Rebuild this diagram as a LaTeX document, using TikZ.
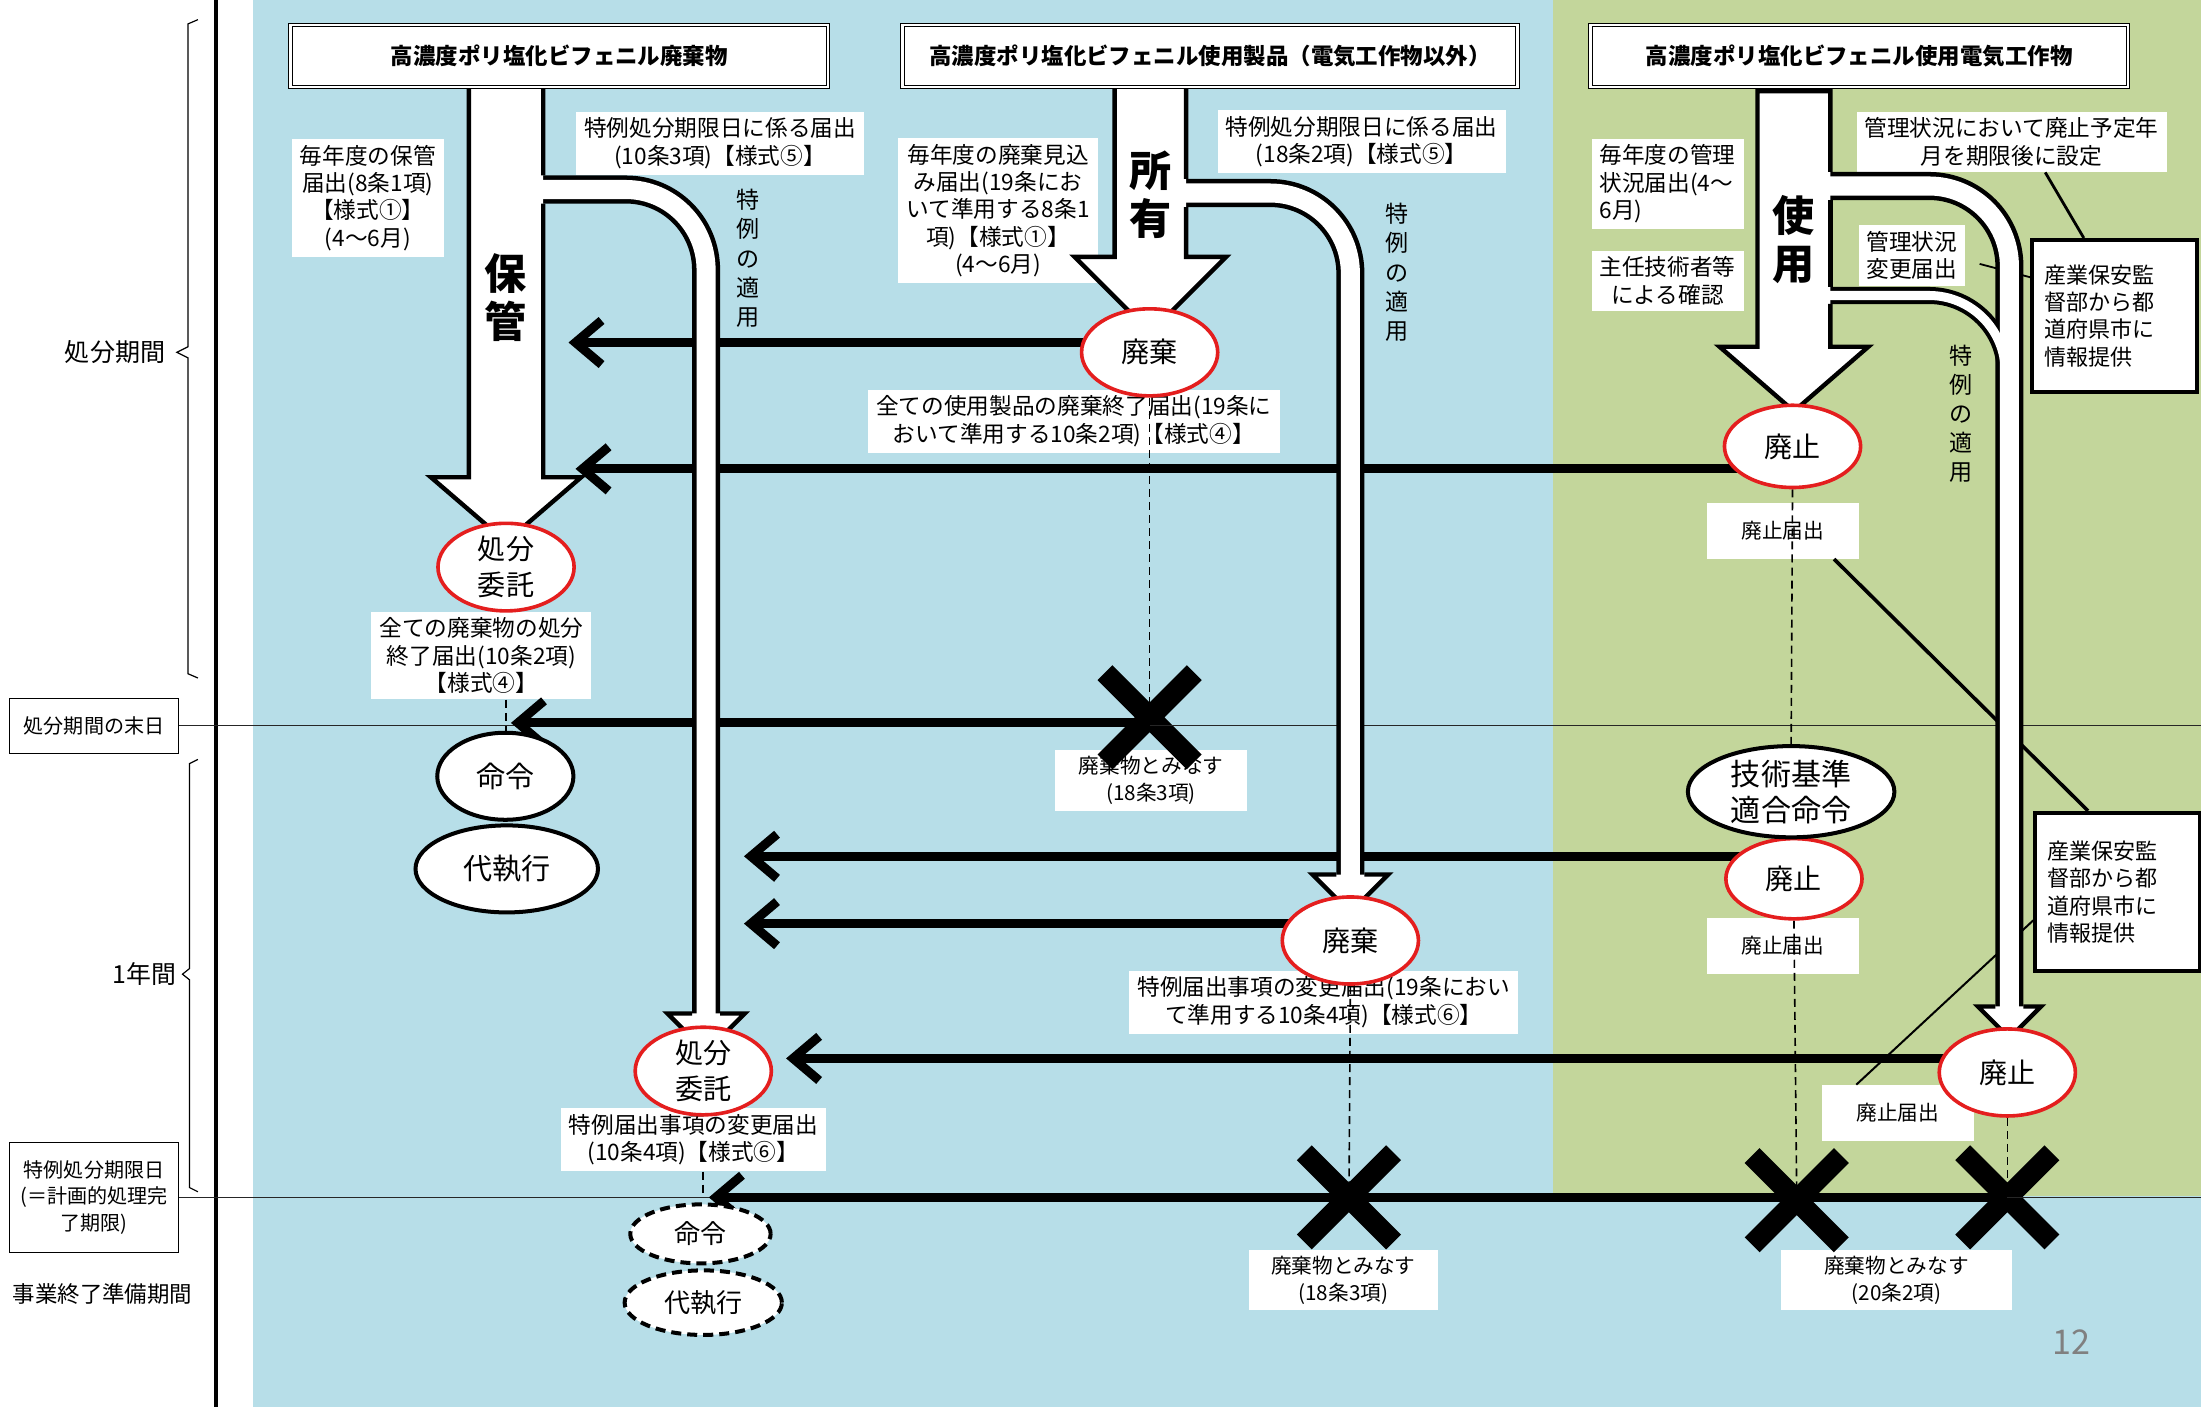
\documentclass[tikz,border=0pt]{standalone}
\usepackage{fontspec}
\setmainfont{Noto Sans CJK JP}
\usetikzlibrary{shapes.geometric,shapes.misc,arrows.meta,calc}

\pgfdeclarelayer{back}
\pgfdeclarelayer{pipes}
\pgfdeclarelayer{front}
\pgfsetlayers{back,main,pipes,front}

\definecolor{paleblue}{RGB}{183,222,232}
\definecolor{palegreen}{RGB}{195,214,155}
\definecolor{ovalred}{RGB}{228,30,30}

\tikzset{
  lbl/.style={fill=white,inner xsep=4pt,inner ysep=3pt,align=center,font=\fontsize{11.3}{13.6}\selectfont},
  smalllbl/.style={lbl,font=\fontsize{10.3}{13.3}\selectfont},
  hdr/.style={draw,double,double distance=1.2pt,line width=0.5pt,fill=white,minimum height=30.8pt,font=\bfseries\fontsize{11.2}{13}\selectfont},
  redoval/.style={ellipse,draw=ovalred,line width=1.8pt,fill=white,inner sep=0pt,minimum width=67.9pt,minimum height=43.4pt,align=center,font=\fontsize{14}{18}\selectfont},
  blkoval/.style={ellipse,draw,line width=2pt,fill=white,inner sep=0pt,minimum height=43.4pt,align=center,font=\fontsize{14.5}{18}\selectfont},
  dashoval/.style={ellipse,draw,line width=2pt,dash pattern=on 5pt off 3pt,fill=white,inner sep=0pt,minimum height=29.4pt,align=center,font=\fontsize{13}{16}\selectfont},
  xmark/.style={cross out,draw,line width=10.5pt,minimum size=34pt,inner sep=0pt},
  harrow/.style={line width=4.5pt,-{Straight Barb[length=13pt,width=22pt]}},
  dline/.style={line width=0.8pt,dash pattern=on 4pt off 2.5pt},
  thinln/.style={line width=0.7pt,black!85},
  info/.style={draw,line width=2pt,fill=white,align=left,text width=70pt,inner xsep=6pt,font=\fontsize{11}{13.7}\selectfont},
  pipeout/.style={line width=14pt,rounded corners=40pt},
  pipein/.style={white,line width=9.5pt,rounded corners=40pt},
  bigarrow/.style={fill=white,draw,line width=2.2pt,line join=miter},
  vtxt/.style={align=center,inner sep=0pt,font=\fontsize{11.5}{14.5}\selectfont},
  bigtxt/.style={align=center,inner sep=0pt,font=\bfseries\fontsize{21}{23.8}\selectfont}
}

\begin{document}
\begin{tikzpicture}[x=0.7pt,y=0.7pt,yscale=-1]
\useasboundingbox (0,0) rectangle (1568,1002);

%Shape: Background
\begin{pgfonlayer}{back}
\fill[white] (0,0) rectangle (1568,1002);
\fill[paleblue] (180,0) rectangle (1568,1002);
\fill[palegreen] (1106,0) rectangle (1568,852);
\draw[line width=2.2pt] (154,0) -- (154,1002);
%Brackets
\draw[line width=0.6pt] (141,14) -- (134,17) -- (134,247) -- (126,251) -- (134,255) -- (134,480) -- (141,483);
\draw[line width=0.6pt] (141,541) -- (135,544) -- (135,690) -- (130,694) -- (135,698) -- (135,846) -- (141,849);
\end{pgfonlayer}

%Shape: Ellipses
\begin{pgfonlayer}{front}
\node[redoval] (e1) at (360.5,404) {処分\\委託};
\node[redoval] (e2) at (819,251) {廃棄};
\node[redoval,minimum height=41pt] (e3) at (1277,318) {廃止};
\node[redoval,minimum height=40pt] (e4) at (1278,626) {廃止};
\node[redoval] (e5) at (962,670) {廃棄};
\node[redoval] (e6) at (501,763) {処分\\委託};
\node[redoval] (e7) at (1430,764) {廃止};
\node[blkoval,minimum width=67.9pt] (m1) at (360,553) {命令};
\node[blkoval,minimum width=91pt] (d1) at (361,619) {代執行};
\node[blkoval,minimum width=103pt,minimum height=45.5pt,font=\fontsize{15}{18}\selectfont] (tk) at (1276,564) {技術基準\\適合命令};
\node[dashoval,minimum width=70pt] (m2) at (499,879) {命令};
\node[dashoval,minimum width=78.4pt,minimum height=32.2pt] (d2) at (501,928) {代執行};
\end{pgfonlayer}

% Text Node
\node[font=\fontsize{12.5}{14}\selectfont] (lp1) at (82,251) {処分期間};
\node[font=\fontsize{12.4}{14}\selectfont] (lp2) at (103,694) {1年間};
\node[font=\fontsize{11.2}{14}\selectfont] (lp3) at (73,922) {事業終了準備期間};
\node[draw,line width=0.6pt,fill=white,minimum width=84pt,minimum height=27.3pt,font=\fontsize{10}{12}\selectfont] (bp1) at (67,517) {処分期間の末日};
\node[draw,line width=0.6pt,fill=white,minimum width=84pt,minimum height=54.6pt,align=center,font=\fontsize{10}{13.2}\selectfont] (bp2) at (67,853) {特例処分期限日\\(＝計画的処理完\\了期限)};

% Text Node
\node[lbl] (la1) at (262,141) {毎年度の保管\\届出(8条1項)\\【様式①】\\(4～6月)};
\node[lbl] (la2) at (513,102) {特例処分期限日に係る届出\\(10条3項)【様式⑤】};
\node[lbl] (lb1) at (711,150) {毎年度の廃棄見込\\み届出(19条にお\\いて準用する8条1\\項)【様式①】\\(4～6月)};
\node[lbl] (lb2) at (970,101) {特例処分期限日に係る届出\\(18条2項)【様式⑤】};
\node[lbl] (lb3) at (765,300) {全ての使用製品の廃棄終了届出(19条に\\おいて準用する10条2項)【様式④】};
\node[lbl] (la3) at (343,467) {全ての廃棄物の処分\\終了届出(10条2項)\\【様式④】};
\node[smalllbl,minimum width=96pt] (lx1) at (820,556) {廃棄物とみなす\\(18条3項)};
\node[lbl,align=left] (lc1) at (1188,131) {毎年度の管理\\状況届出(4～\\6月)};
\node[lbl] (lc2) at (1188,200) {主任技術者等\\による確認};
\node[lbl] (lc3) at (1433,101) {管理状況において廃止予定年\\月を期限後に設定};
\node[lbl] (lc4) at (1362,182) {管理状況\\変更届出};
\node[smalllbl,minimum width=76pt,minimum height=28pt] (lc5) at (1270,378) {廃止届出};
\node[smalllbl,minimum width=76pt,minimum height=28pt] (lc6) at (1270,674) {廃止届出};
\node[smalllbl,minimum width=76pt,minimum height=28pt] (lc7) at (1352,793) {廃止届出};
\node[lbl] (lb4) at (943,714) {特例届出事項の変更届出(19条におい\\て準用する10条4項)【様式⑥】};
\node[lbl] (la4) at (494,812) {特例届出事項の変更届出\\(10条4項)【様式⑥】};
\node[smalllbl,minimum width=94.5pt] (lx2) at (957,912) {廃棄物とみなす\\(18条3項)};
\node[smalllbl,minimum width=115pt] (lx3) at (1351,912) {廃棄物とみなす\\(20条2項)};
\node[info,minimum height=75.6pt] (ib1) at (1506.5,225) {産業保安監\\督部から都\\道府県市に\\情報提供};
\node[info,minimum height=79pt] (ib2) at (1508.5,635.5) {産業保安監\\督部から都\\道府県市に\\情報提供};
\node[text=gray,font=\fontsize{17}{20}\selectfont] (pg) at (1476,956) {12};

%Shape: Cross
\node[xmark] (xm1) at (819,511) {};
\node[xmark] (xm2) at (961,853) {};
\node[xmark] (xm3) at (1280,855) {};
\node[xmark] (xm4) at (1430,853) {};

%Straight Lines
\coordinate (r1) at (1568,517);
\coordinate (r2) at (1568,853);
\draw[thinln] (bp1.east) -- (r1);
\draw[thinln] (bp2.east) -- (r2);

%Straight Lines: arrows to the left
\coordinate (t1) at (405,244);
\coordinate (t2) at (410,334);
\coordinate (t3) at (364,515);
\coordinate (t4) at (530,610);
\coordinate (t5) at (530,658);
\coordinate (t6) at (560,754);
\coordinate (t7) at (505,853);
\draw[harrow] (e2 |- t1) -- (t1);
\draw[harrow] (e3 |- t2) -- (t2);
\draw[harrow] (xm1 |- t3) -- (t3);
\draw[harrow] (e4 |- t4) -- (t4);
\draw[harrow] (e5 |- t5) -- (t5);
\draw[harrow] (e7 |- t6) -- (t6);
\draw[harrow] (xm4 |- t7) -- (t7);

%Dashed Lines
\draw[dline] (e2.south) -- (xm1.center);
\draw[dline] (e1 |- la3.south) -- (e1 |- m1.north);
\draw[dline] (e5.south) -- (xm2.center);
\draw[dline] (e3.south) -- (tk.north);
\draw[dline] (e4.south) -- (xm3.center);
\draw[dline] (e7.south) -- (xm4.center);
\draw[dline] (e6 |- la4.south) -- (e6 |- t7);

%Straight Lines: to the info boxes
\draw[line width=1.4pt] ($(ib1.north west)+(38,0)$) -- ($(lc3.south)+(24,0)$);
\draw[line width=0.9pt] ($(ib1.north west)+(0,28)$) -- ($(lc4.east)+(10,6)$);
\draw[line width=1.8pt] ($(lc5.south east)+(-18,0)$) -- ($(ib2.north west)+(39,0)$);
\draw[line width=1pt] ($(lc7.north west)+(25,0)$) -- ($(ib2.north west)+(0,78)$);

\begin{pgfonlayer}{pipes}
%Curve Lines: pipes
\draw[pipeout] (360,135) -- (503,135) -- (503,724);
\draw[pipeout] (819,137.5) -- (962,137.5) -- (962,625);
\draw[pipeout] (1278,132.5) -- (1431.5,132.5) -- (1431.5,719);
\draw[pipeout,line width=8.5pt,rounded corners=38pt] (1278,210.5) -- (1428.5,210.5) -- (1428.5,420);
\draw[pipein] (360,135) -- (503,135) -- (503,724);
\draw[pipein] (819,137.5) -- (962,137.5) -- (962,625);
\draw[pipein] (1278,132.5) -- (1431.5,132.5) -- (1431.5,719);
\draw[pipein,line width=4.5pt,rounded corners=38pt] (1278,210.5) -- (1428.5,210.5) -- (1428.5,420);

%Shape: Block Arrows
\filldraw[bigarrow] (387,145) -- (387,340) -- (414,340) -- (360.5,386) -- (307,340) -- (334,340) -- (334,60) -- (387,60) -- (387,125);
\filldraw[bigarrow] (845,147.5) -- (845,183) -- (873.5,183) -- (819.5,237) -- (765.5,183) -- (794,183) -- (794,60) -- (845,60) -- (845,127.5);
\filldraw[bigarrow] (1304,216.5) -- (1304,247) -- (1331,247) -- (1278,293) -- (1225,247) -- (1252,247) -- (1252,65) -- (1304,65) -- (1304,122.5);
\draw[line width=2.2pt] (1304,142.5) -- (1304,204.5);

%Shape: Pipe Heads
\filldraw[bigarrow] (493,722) -- (475.5,722) -- (503,749.5) -- (530.5,722) -- (513,722);
\filldraw[bigarrow] (952,623) -- (935,623) -- (962,650) -- (989,623) -- (972,623);
\filldraw[bigarrow] (1421.5,717) -- (1409,717) -- (1431.5,739.5) -- (1454,717) -- (1441.5,717);

% Text Node
\node[bigtxt] (tA) at (360.5,212) {保\\管};
\node[bigtxt] (tB) at (819.5,138.5) {所\\有};
\node[bigtxt] (tC) at (1278,170.5) {使\\用};
\node[vtxt] (ta) at (533,184) {特\\例\\の\\適\\用};
\node[vtxt] (tb) at (995,194) {特\\例\\の\\適\\用};
\node[vtxt] (tc) at (1397,295) {特\\例\\の\\適\\用};
\end{pgfonlayer}

%Shape: Headers
\begin{pgfonlayer}{front}
\node[hdr,minimum width=268pt] (h1) at (398.5,40) {高濃度ポリ塩化ビフェニル廃棄物};
\node[hdr,minimum width=306.6pt] (h2) at (862,40) {高濃度ポリ塩化ビフェニル使用製品（電気工作物以外）};
\node[hdr,minimum width=268pt] (h3) at (1324.5,40) {高濃度ポリ塩化ビフェニル使用電気工作物};
\end{pgfonlayer}

\end{tikzpicture}
\end{document}
